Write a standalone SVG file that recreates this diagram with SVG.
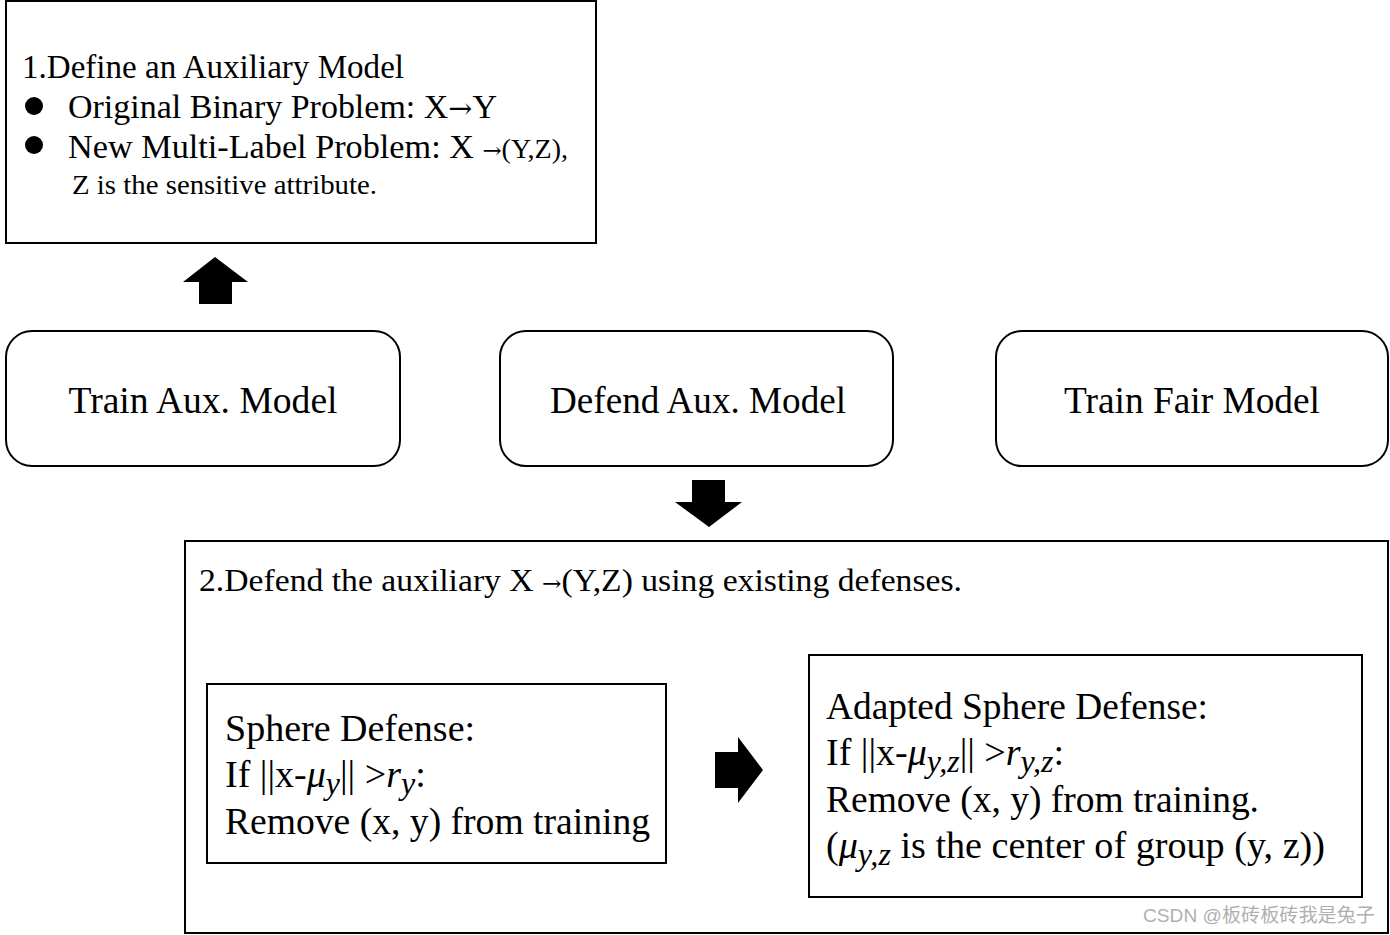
<svg xmlns="http://www.w3.org/2000/svg" width="1390" height="935" viewBox="0 0 1390 935">
<style>
.box{fill:#fff;stroke:#000;stroke-width:2}
.node{fill:#fff;stroke:#000;stroke-width:2}
.t{font-family:"Liberation Serif","Times New Roman",serif;fill:#000}
.it{font-style:italic}
.ar{font-family:"DejaVu Serif",serif}
.arrow{fill:#000}
.wm{font-family:"Liberation Sans","Noto Sans CJK SC",sans-serif;fill:#b0b0b0;font-size:19px}
</style>
<rect width="1390" height="935" fill="#fff"/>
<g id="define-box">
<rect class="box" x="6" y="1" width="590" height="242"/>
<text class="t" x="22" y="78" font-size="33" textLength="382" lengthAdjust="spacingAndGlyphs">1.Define an Auxiliary Model</text>
<circle cx="34" cy="106" r="9"/>
<text class="t" x="68" y="118" font-size="33" textLength="429" lengthAdjust="spacingAndGlyphs">Original Binary Problem: X<tspan class="ar" font-size="28">→</tspan>Y</text>
<circle cx="34" cy="145" r="9"/>
<text class="t" x="68" y="158" font-size="33" textLength="500" lengthAdjust="spacingAndGlyphs">New Multi-Label Problem: X <tspan class="ar" font-size="22">→</tspan><tspan font-size="27">(Y,Z),</tspan></text>
<text class="t" x="72" y="194" font-size="27.5" textLength="305" lengthAdjust="spacingAndGlyphs">Z is the sensitive attribute.</text>
</g>
<g id="train-aux">
<rect class="node" x="6" y="331" width="394" height="135" rx="26" ry="26"/>
<text class="t" x="203" y="413" font-size="38" text-anchor="middle" textLength="269" lengthAdjust="spacingAndGlyphs">Train Aux. Model</text>
</g>
<g id="defend-aux">
<rect class="node" x="500" y="331" width="393" height="135" rx="26" ry="26"/>
<text class="t" x="698" y="413" font-size="38" text-anchor="middle" textLength="296" lengthAdjust="spacingAndGlyphs">Defend Aux. Model</text>
</g>
<g id="train-fair">
<rect class="node" x="996" y="331" width="392" height="135" rx="26" ry="26"/>
<text class="t" x="1192" y="413" font-size="38" text-anchor="middle" textLength="256" lengthAdjust="spacingAndGlyphs">Train Fair Model</text>
</g>
<g id="defend-box">
<rect class="box" x="185" y="541" width="1203" height="392"/>
<text class="t" x="199" y="591" font-size="32" textLength="763" lengthAdjust="spacingAndGlyphs">2.Defend the auxiliary X <tspan class="ar" font-size="22">→</tspan>(Y,Z) using existing defenses.</text>
</g>
<g id="sphere-defense">
<rect class="box" x="207" y="684" width="459" height="179"/>
<text class="t" x="225" y="741" font-size="38">Sphere Defense:</text>
<text class="t" x="225" y="787" font-size="38">If ||x-<tspan class="it">μ</tspan><tspan class="it" font-size="32" dy="7">y</tspan><tspan dy="-7">|| &gt;</tspan><tspan class="it">r</tspan><tspan class="it" font-size="32" dy="7">y</tspan><tspan dy="-7">:</tspan></text>
<text class="t" x="225" y="834" font-size="38" textLength="425" lengthAdjust="spacingAndGlyphs">Remove (x, y) from training</text>
</g>
<g id="adapted-sphere-defense">
<rect class="box" x="809" y="655" width="553" height="242"/>
<text class="t" x="826" y="719" font-size="38" textLength="382" lengthAdjust="spacingAndGlyphs">Adapted Sphere Defense:</text>
<text class="t" x="826" y="765" font-size="38">If ||x-<tspan class="it">μ</tspan><tspan class="it" font-size="32" dy="7">y,z</tspan><tspan dy="-7">|| &gt;</tspan><tspan class="it">r</tspan><tspan class="it" font-size="32" dy="7">y,z</tspan><tspan dy="-7">:</tspan></text>
<text class="t" x="826" y="812" font-size="38" textLength="433" lengthAdjust="spacingAndGlyphs">Remove (x, y) from training.</text>
<text class="t" x="826" y="858" font-size="38" textLength="499" lengthAdjust="spacingAndGlyphs">(<tspan class="it">μ</tspan><tspan class="it" font-size="32" dy="7">y,z</tspan><tspan dy="-7"> is the center of group (y, z))</tspan></text>
</g>
<g id="connectors">
<polygon class="arrow" points="215,257 248,282 232,282 232,304 199,304 199,282 183,282"/>
<polygon class="arrow" points="692,480 725,480 725,502 742,502 709,527 675,502 692,502"/>
<polygon class="arrow" points="715,752 738,752 738,737 763,770 738,803 738,788 715,788"/>
</g>
<text class="wm" x="1143" y="922" textLength="232" lengthAdjust="spacingAndGlyphs">CSDN @板砖板砖我是兔子</text>
</svg>
